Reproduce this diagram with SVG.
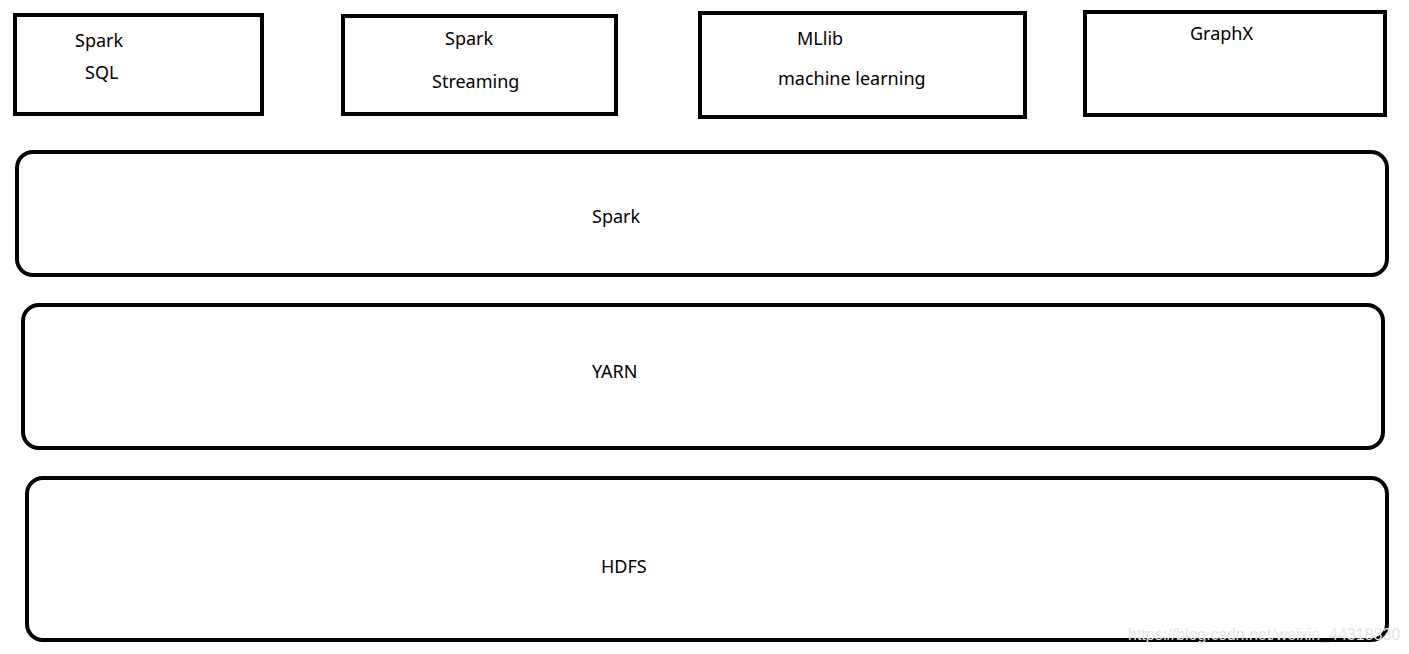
<svg xmlns="http://www.w3.org/2000/svg" width="1409" height="654" viewBox="0 0 1409 654">
<style>
.b{fill:#fff;stroke:#000;stroke-width:4}
text{font-family:"Microsoft YaHei","Noto Sans","DejaVu Sans",sans-serif;font-size:18px;fill:#000}
.wm{font-family:"Liberation Sans",sans-serif;font-size:16px;fill:#e6e6e6}
</style>
<rect width="1409" height="654" fill="#fff"/>
<g id="sparksql"><rect class="b" x="15" y="15" width="247" height="99"/><text x="75" y="47">Spark</text><text x="85" y="79">SQL</text></g>
<g id="sparkstreaming"><rect class="b" x="343" y="16" width="273" height="98"/><text x="445" y="45">Spark</text><text x="432" y="88">Streaming</text></g>
<g id="mllib"><rect class="b" x="700" y="13" width="325" height="104"/><text x="797" y="45">MLlib</text><text x="778" y="85">machine learning</text></g>
<g id="graphx"><rect class="b" x="1085" y="12" width="300" height="103"/><text x="1190" y="40">GraphX</text></g>
<g id="spark"><rect class="b" x="17" y="152" width="1370" height="123" rx="16"/><text x="592" y="223">Spark</text></g>
<g id="yarn"><rect class="b" x="23" y="305" width="1360" height="143" rx="16"/><text x="592" y="378">YARN</text></g>
<g id="hdfs"><rect class="b" x="27" y="478" width="1360" height="162" rx="16"/><text x="601" y="573">HDFS</text></g>
<g id="connectors"/>
<text class="wm" x="1128" y="640">https://blog.csdn.net/weixin_44318830</text>
</svg>
